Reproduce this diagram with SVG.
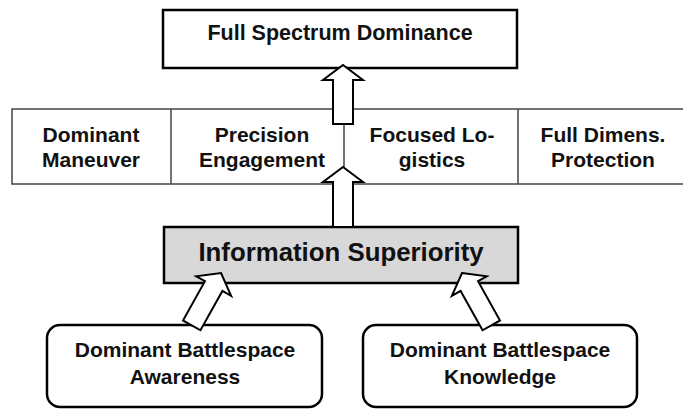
<svg xmlns="http://www.w3.org/2000/svg" width="683" height="409" viewBox="0 0 683 409">
<defs>
<style>
.box{fill:#fff;stroke:#000;stroke-width:2.5}
.row{fill:#fff;stroke:#444;stroke-width:1.5}
.info{fill:#d8d8d8;stroke:#000;stroke-width:2.5}
.arrow{fill:#fff;stroke:#000;stroke-width:2;stroke-linejoin:miter}
text{font-family:"Liberation Sans",Arial,sans-serif;font-weight:bold;fill:#111;text-anchor:middle}
.t21{font-size:21.5px}
.t20{font-size:21px}
.t25{font-size:25.8px}
.t19{font-size:21px}
</style>
</defs>
<rect width="683" height="409" fill="#fff"/>
<g id="node-fsd">
<rect class="box" x="163" y="10" width="354" height="58"/>
<text class="t21" x="340" y="40">Full Spectrum Dominance</text>
</g>
<g id="node-row">
<rect class="row" x="12" y="109" width="680" height="75"/>
<line class="row" x1="171" y1="109" x2="171" y2="184"/>
<line class="row" x1="344" y1="109" x2="344" y2="184"/>
<line class="row" x1="518" y1="109" x2="518" y2="184"/>
</g>
<g id="node-dm">
<text class="t20" x="91" y="142">Dominant</text>
<text class="t20" x="91" y="167">Maneuver</text>
</g>
<g id="node-pe">
<text class="t20" x="262" y="142">Precision</text>
<text class="t20" x="262" y="167">Engagement</text>
</g>
<g id="node-fl">
<text class="t20" x="432" y="142">Focused Lo-</text>
<text class="t20" x="432" y="167">gistics</text>
</g>
<g id="node-fdp">
<text class="t20" x="603" y="142">Full Dimens.</text>
<text class="t20" x="603" y="167">Protection</text>
</g>
<g id="node-is">
<rect class="info" x="164" y="227" width="354" height="56"/>
<text class="t25" x="341" y="261">Information Superiority</text>
</g>
<g id="node-dba">
<rect class="box" x="47" y="325" width="275" height="82" rx="13" ry="13"/>
<text class="t19" x="185" y="357">Dominant Battlespace</text>
<text class="t19" x="185" y="384">Awareness</text>
</g>
<g id="node-dbk">
<rect class="box" x="363" y="325" width="274" height="82" rx="13" ry="13"/>
<text class="t19" x="500" y="357">Dominant Battlespace</text>
<text class="t19" x="500" y="384">Knowledge</text>
</g>
<g id="connectors">
<polygon class="arrow" points="343,65 363,80 353,80 353,124 333,124 333,80 323,80"/>
<polygon class="arrow" points="343,167 363,182 353,182 353,227 333,227 333,182 323,182"/>
<polygon class="arrow" transform="translate(221,273) rotate(29.2)" points="0,0 20,15 10,15 10,60 -10,60 -10,15 -20,15"/>
<polygon class="arrow" transform="translate(462,273) rotate(-29.2)" points="0,0 20,15 10,15 10,60 -10,60 -10,15 -20,15"/>
</g>
</svg>
